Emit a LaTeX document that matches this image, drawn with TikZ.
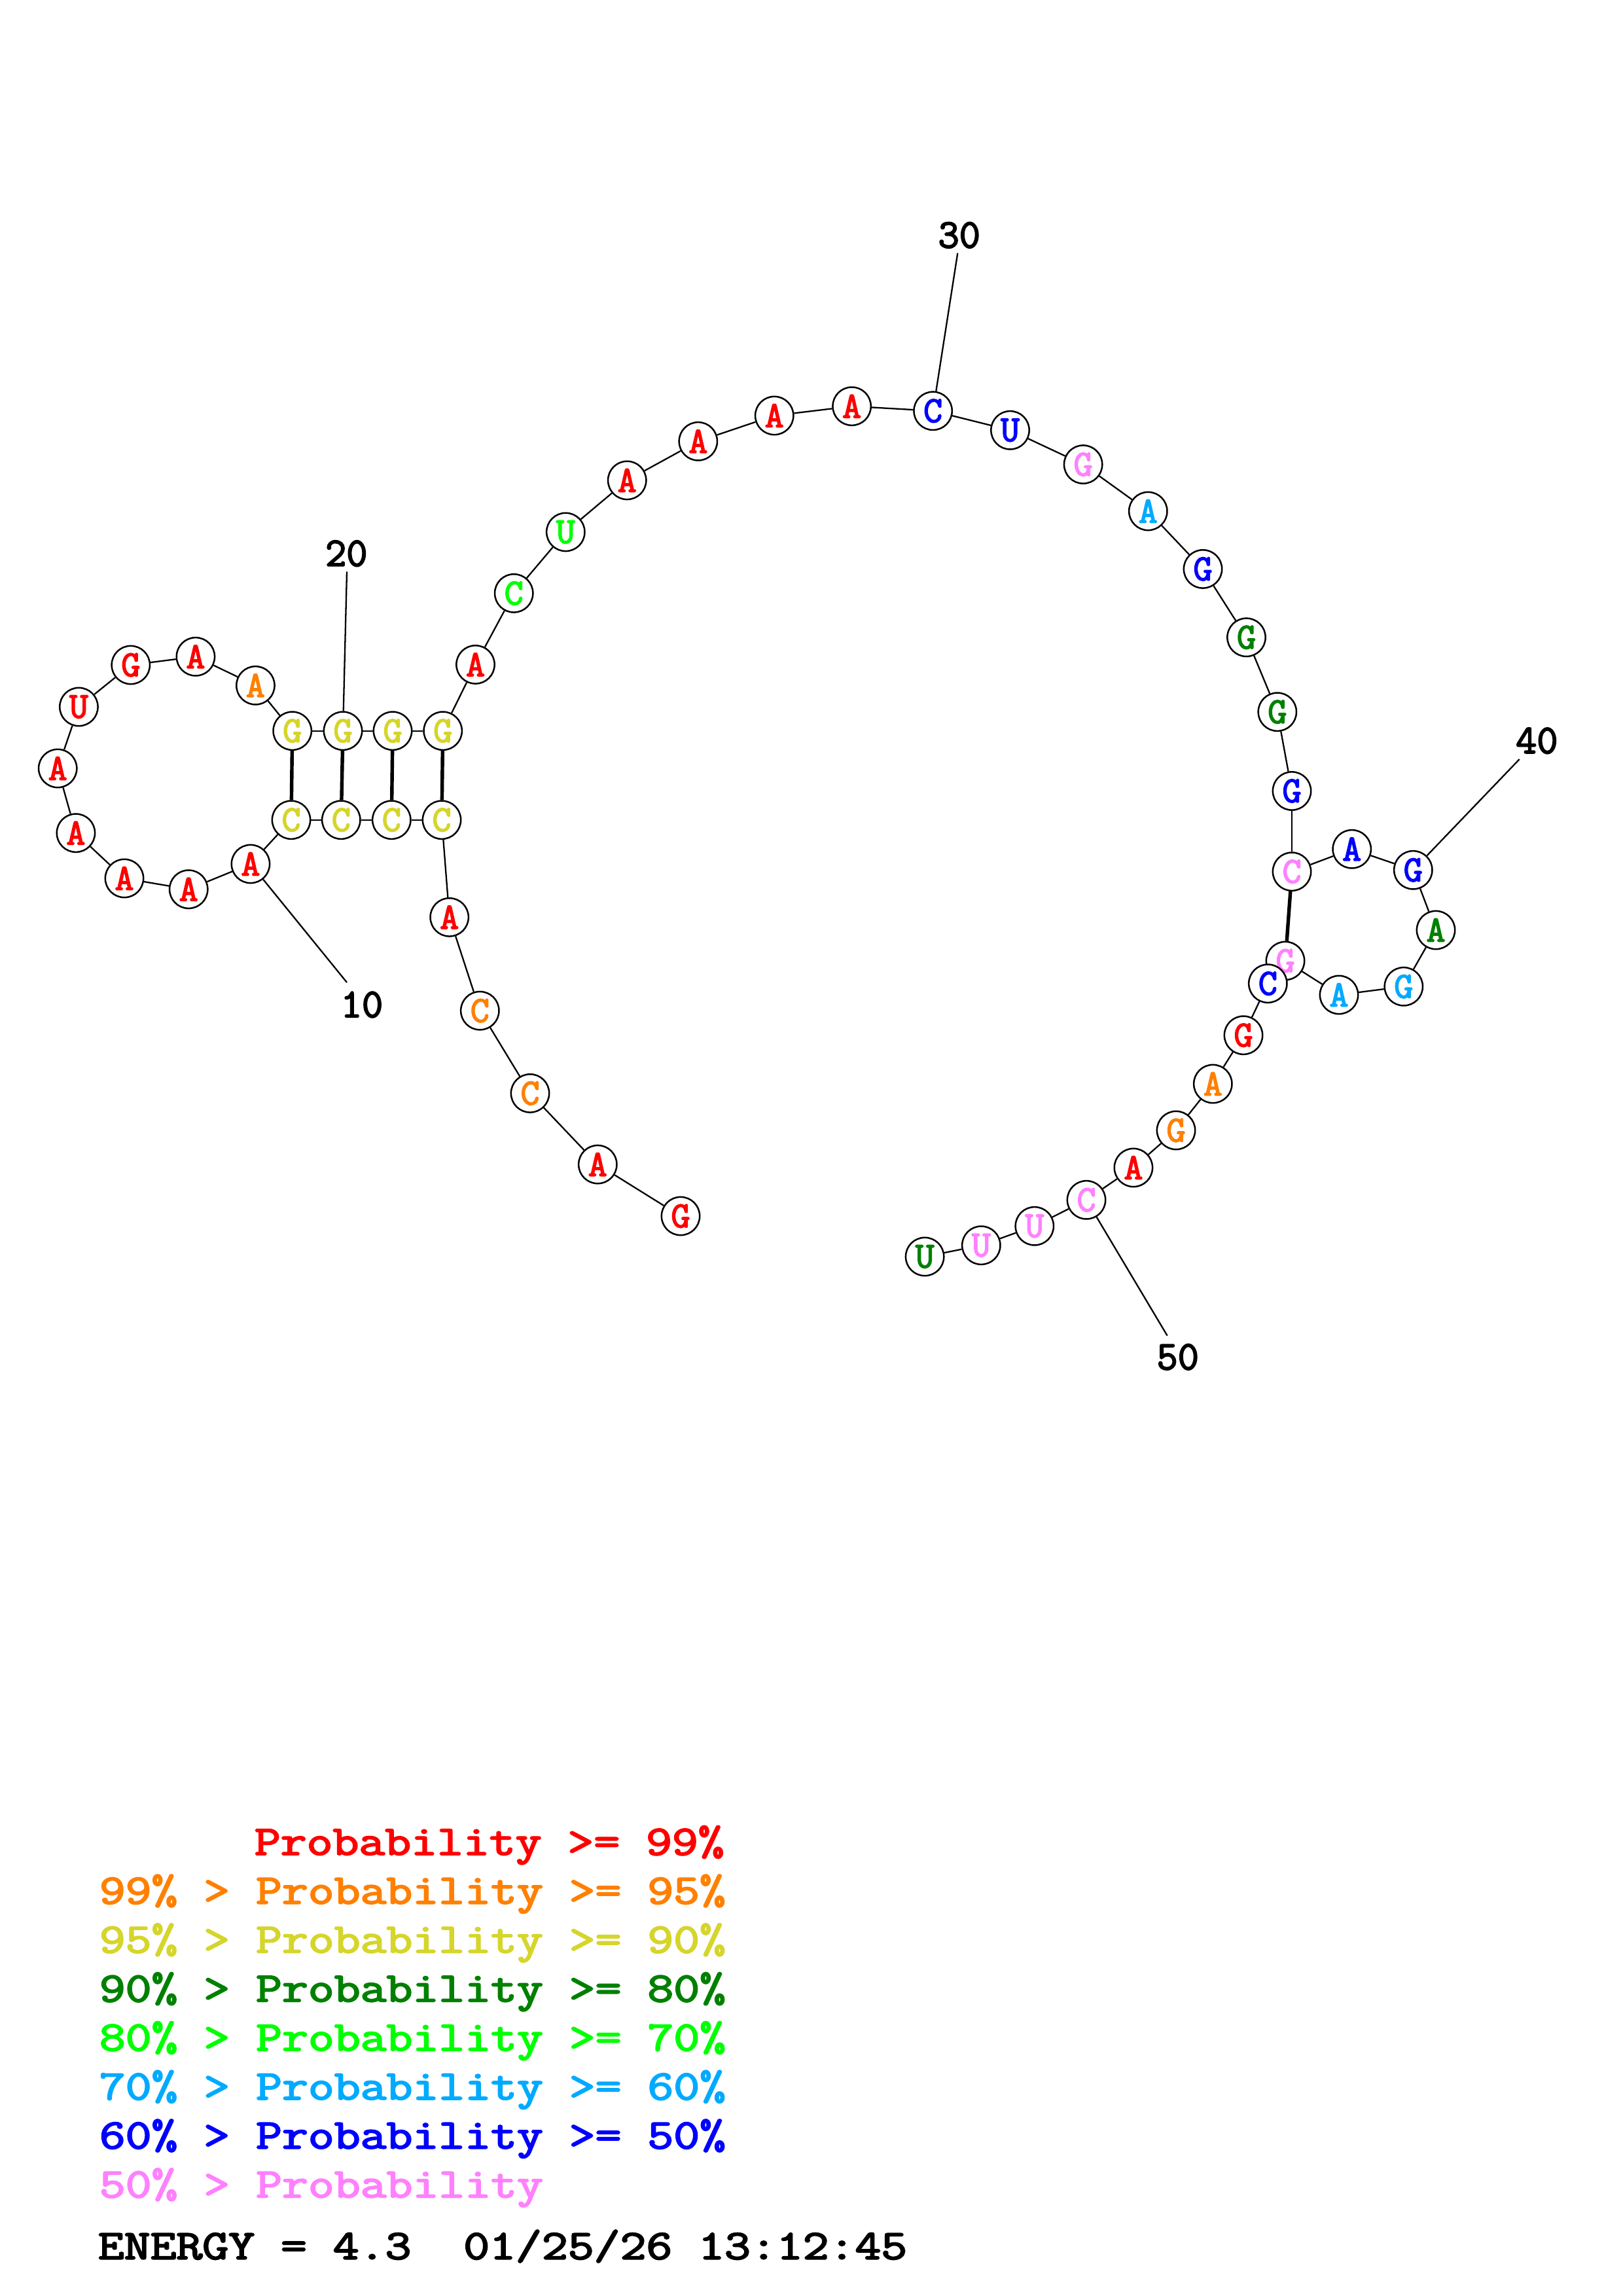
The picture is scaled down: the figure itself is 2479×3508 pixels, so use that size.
\documentclass[tikz,border=0pt]{standalone}
\usepackage{fontspec}
\usepackage{graphicx}
\newfontfamily\courb{Latin Modern Mono}[FakeBold=3]
\usetikzlibrary{backgrounds}
\definecolor{cR}{HTML}{FF0000}
\definecolor{cO}{HTML}{FF8000}
\definecolor{cY}{HTML}{D5D52B}
\definecolor{cDG}{HTML}{008000}
\definecolor{cG}{HTML}{00FF00}
\definecolor{cS}{HTML}{00AAFF}
\definecolor{cB}{HTML}{0000FF}
\definecolor{cP}{HTML}{FF80FF}
\newcommand{\legtext}[1]{\scalebox{1.207}[1]{#1}}
\tikzset{
  nt/.style={circle, draw=black, line width=0.6pt, fill=white, minimum size=14pt, inner sep=0pt, font=\courb\fontsize{13.5}{13.5}\selectfont},
  bb/.style={line width=0.55pt, black},
  bp/.style={line width=1.3pt, black},
  numlbl/.style={font=\courb\fontsize{15}{15}\selectfont, inner sep=0pt},
  leg/.style={font=\courb\fontsize{15.4}{16}\selectfont, anchor=base west, inner sep=0pt}
}
\begin{document}
\begin{tikzpicture}[x=0.24pt, y=-0.24pt]
\useasboundingbox (0,0) rectangle (2479,3508);
% nucleotides
\node[nt, text=cR] (n1) at (1040,1858) {G};
\node[nt, text=cR] (n2) at (913.3,1779.1) {A};
\node[nt, text=cO] (n3) at (810,1670.4) {C};
\node[nt, text=cO] (n4) at (733.3,1544.2) {C};
\node[nt, text=cR] (n5) at (686.7,1401.4) {A};
\node[nt, text=cY] (n6) at (675,1252.7) {C};
\node[nt, text=cY] (n7) at (598.3,1252.7) {C};
\node[nt, text=cY] (n8) at (521.3,1252.7) {C};
\node[nt, text=cY] (n9) at (445,1252.7) {C};
\node[nt, text=cR] (n10) at (382.9,1320) {A};
\node[nt, text=cR] (n11) at (288.2,1358.7) {A};
\node[nt, text=cR] (n12) at (190,1342) {A};
\node[nt, text=cR] (n13) at (115.9,1272.7) {A};
\node[nt, text=cR] (n14) at (88.2,1174) {A};
\node[nt, text=cR] (n15) at (120.4,1080) {U};
\node[nt, text=cR] (n16) at (199.8,1016) {G};
\node[nt, text=cR] (n17) at (298.9,1003.3) {A};
\node[nt, text=cO] (n18) at (390.4,1047.3) {A};
\node[nt, text=cY] (n19) at (446.7,1116.7) {G};
\node[nt, text=cY] (n20) at (524,1116.7) {G};
\node[nt, text=cY] (n21) at (600,1116.7) {G};
\node[nt, text=cY] (n22) at (676.7,1116.7) {G};
\node[nt, text=cR] (n23) at (726.5,1015.4) {A};
\node[nt, text=cG] (n24) at (785.2,906.4) {C};
\node[nt, text=cG] (n25) at (864.3,812.9) {U};
\node[nt, text=cR] (n26) at (958.2,733.9) {A};
\node[nt, text=cR] (n27) at (1066.8,674.3) {A};
\node[nt, text=cR] (n28) at (1183.2,635) {A};
\node[nt, text=cR] (n29) at (1301.6,620.7) {A};
\node[nt, text=cB] (n30) at (1425.6,627.8) {C};
\node[nt, text=cB] (n31) at (1543.5,657.3) {U};
\node[nt, text=cP] (n32) at (1655.1,709.6) {G};
\node[nt, text=cS] (n33) at (1754.3,781) {A};
\node[nt, text=cB] (n34) at (1838,869.4) {G};
\node[nt, text=cDG] (n35) at (1904.5,973.8) {G};
\node[nt, text=cDG] (n36) at (1951.8,1087.7) {G};
\node[nt, text=cB] (n37) at (1974,1208.5) {G};
\node[nt, text=cP] (n38) at (1974,1331.7) {C};
\node[nt, text=cB] (n39) at (2065.7,1297.3) {A};
\node[nt, text=cB] (n40) at (2159.3,1329.3) {G};
\node[nt, text=cDG] (n41) at (2194,1421) {A};
\node[nt, text=cS] (n42) at (2144.8,1507.3) {G};
\node[nt, text=cS] (n43) at (2046,1520) {A};
\node[nt, text=cP] (n44) at (1964,1468) {G};
\node[nt, text=cB] (n45) at (1937.3,1502.7) {C};
\node[nt, text=cR] (n46) at (1900,1581.7) {G};
\node[nt, text=cO] (n47) at (1853.3,1656) {A};
\node[nt, text=cO] (n48) at (1797,1727) {G};
\node[nt, text=cR] (n49) at (1731.9,1784) {A};
\node[nt, text=cP] (n50) at (1660,1833.3) {C};
\node[nt, text=cP] (n51) at (1580.8,1873.3) {U};
\node[nt, text=cP] (n52) at (1499.3,1902.7) {U};
\node[nt, text=cDG] (n53) at (1413.1,1920) {U};
% number labels
\coordinate (t10) at (530,1501);
\coordinate (t20) at (530,873.3);
\coordinate (t30) at (1463.3,386.7);
\coordinate (t40) at (2321.7,1160);
\coordinate (t50) at (1783.6,2040.7);
\node[numlbl] (l10) at (553,1535) {10};
\node[numlbl] (l20) at (529.3,845.7) {20};
\node[numlbl] (l30) at (1465.7,359.3) {30};
\node[numlbl] (l40) at (2348.3,1131.7) {40};
\node[numlbl] (l50) at (1799.7,2073.3) {50};
\begin{scope}[on background layer]
  \fill[white] (0,0) rectangle (2479,3508);
  \foreach \i [evaluate=\i as \j using int(\i+1)] in {1,...,52} {
    \draw[bb] (n\i) -- (n\j);
  }
  \draw[bp] (n6) -- (n22);
  \draw[bp] (n7) -- (n21);
  \draw[bp] (n8) -- (n20);
  \draw[bp] (n9) -- (n19);
  \draw[bp] (n38) -- (n44);
  \draw[bb] (n10) -- (t10);
  \draw[bb] (n20) -- (t20);
  \draw[bb] (n30) -- (t30);
  \draw[bb] (n40) -- (t40);
  \draw[bb] (n50) -- (t50);
\end{scope}
% legend
\node[leg, text=cR] (g1) at (388,2834) {\legtext{Probability >= 99\%}};
\node[leg, text=cO] (g2) at (151,2908.6) {\legtext{99\% > Probability >= 95\%}};
\node[leg, text=cY] (g3) at (151,2983.4) {\legtext{95\% > Probability >= 90\%}};
\node[leg, text=cDG] (g4) at (151,3058.2) {\legtext{90\% > Probability >= 80\%}};
\node[leg, text=cG] (g5) at (151,3133) {\legtext{80\% > Probability >= 70\%}};
\node[leg, text=cS] (g6) at (151,3207.8) {\legtext{70\% > Probability >= 60\%}};
\node[leg, text=cB] (g7) at (151,3282.6) {\legtext{60\% > Probability >= 50\%}};
\node[leg, text=cP] (g8) at (151,3357.4) {\legtext{50\% > Probability}};
\node[leg, text=black] (en) at (149,3451.6) {\legtext{ENERGY = 4.3\ \ 01/25/26 13:12:45}};
\end{tikzpicture}
\end{document}
